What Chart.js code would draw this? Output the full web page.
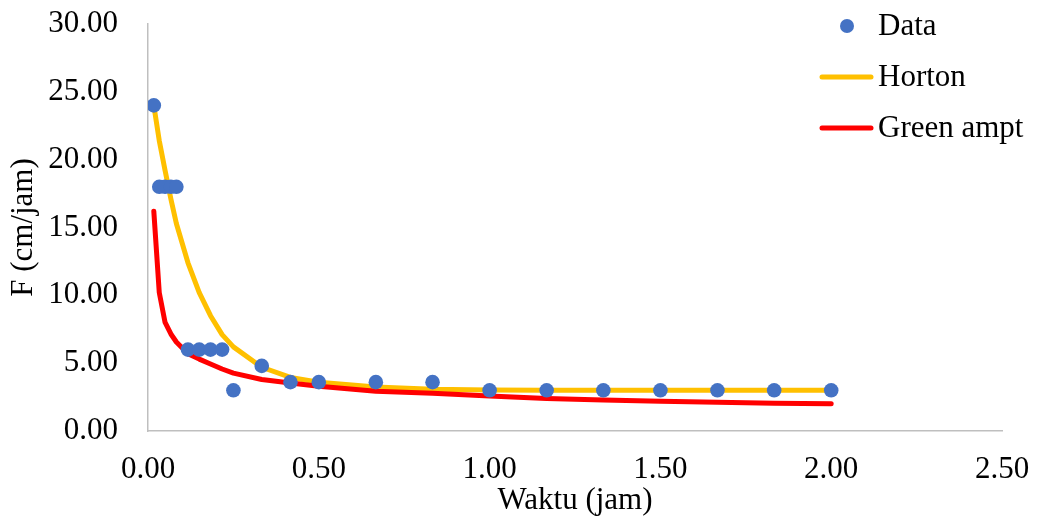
<!DOCTYPE html>
<html><head><meta charset="utf-8">
<script src="https://cdn.jsdelivr.net/npm/chart.js@4.4.1/dist/chart.umd.min.js"></script>
<style>html,body{margin:0;padding:0;background:#fff;} #wrap{width:1038px;height:522px;position:relative;}</style>
</head><body><div id="wrap"><canvas id="c"></canvas></div>
<script>
const timeJam = [0.017, 0.033, 0.05, 0.067, 0.083, 0.117, 0.15, 0.183, 0.217, 0.25, 0.333, 0.417, 0.5, 0.667, 0.833, 1.0, 1.167, 1.333, 1.5, 1.667, 1.833, 2.0];
const dataF = [24, 18, 18, 18, 18, 6, 6, 6, 6, 3, 4.8, 3.6, 3.6, 3.6, 3.6, 3, 3, 3, 3, 3, 3, 3];
const hortonF = [24.0, 21.4, 19.2, 17.1, 15.3, 12.4, 10.2, 8.5, 7.1, 6.2, 4.7, 3.95, 3.6, 3.25, 3.08, 3.02, 3.0, 3.0, 3.0, 3.0, 3.0, 3.0];
const greenAmptF = [16.2, 10.2, 8.0, 7.15, 6.56, 5.7, 5.3, 4.94, 4.57, 4.27, 3.8, 3.54, 3.3, 2.93, 2.78, 2.58, 2.4, 2.28, 2.19, 2.12, 2.05, 2.0];
const xTicks = [0, 0.5, 1.0, 1.5, 2.0, 2.5];
const yTicks = [0, 5, 10, 15, 20, 25, 30];
const seriesNames = ['Data', 'Horton', 'Green ampt'];
const axisTitles = {x: 'Waktu (jam)', y: 'F (cm/jam)'};

const FONT = "'Liberation Serif','Times New Roman',serif";
const FS = 31;
const pts = (ys) => timeJam.map((t, i) => ({x: t, y: ys[i]}));

const legendPlugin = {
  id: 'customLegend',
  afterDraw(chart) {
    const ctx = chart.ctx;
    ctx.save();
    ctx.font = FS + 'px ' + FONT;
    ctx.textBaseline = 'middle';
    ctx.textAlign = 'left';
    const rows = [26, 77, 128];
    const dsOrder = [0, 1, 2];
    dsOrder.forEach((di, r) => {
      const ds = chart.data.datasets[di];
      const y = rows[r];
      if (ds.showLine === false) {
        ctx.beginPath();
        ctx.fillStyle = ds.backgroundColor;
        ctx.arc(847, y, 7, 0, Math.PI * 2);
        ctx.fill();
      } else {
        ctx.beginPath();
        ctx.strokeStyle = ds.borderColor;
        ctx.lineWidth = ds.borderWidth;
        ctx.lineCap = 'round';
        ctx.moveTo(822, y);
        ctx.lineTo(871, y);
        ctx.stroke();
      }
      ctx.fillStyle = '#000';
      ctx.fillText(ds.label, 878, y + 1);
    });
    ctx.restore();
  }
};

new Chart(document.getElementById('c'), {
  type: 'scatter',
  data: {
    datasets: [
      {label: seriesNames[0], data: pts(dataF), showLine: false, backgroundColor: '#4472C4', borderColor: '#4472C4', pointRadius: 7.3, pointBorderWidth: 0, order: 0},
      {label: seriesNames[1], data: pts(hortonF), showLine: true, borderColor: '#FFC000', backgroundColor: '#FFC000', borderWidth: 5, pointRadius: 0, tension: 0, borderCapStyle: 'round', borderJoinStyle: 'round', order: 2},
      {label: seriesNames[2], data: pts(greenAmptF), showLine: true, borderColor: '#FF0000', backgroundColor: '#FF0000', borderWidth: 5, pointRadius: 0, tension: 0, borderCapStyle: 'round', borderJoinStyle: 'round', order: 1}
    ]
  },
  options: {
    responsive: true,
    maintainAspectRatio: false,
    animation: false,
    layout: {padding: {top: 24, right: 36, bottom: 0, left: 0}},
    plugins: {legend: {display: false}, tooltip: {enabled: false}},
    scales: {
      x: {
        type: 'linear', min: 0, max: 2.5,
        afterBuildTicks: (s) => { s.ticks = xTicks.map(v => ({value: v})); },
        afterFit: (s) => { s.height = 91; s.paddingLeft = 0; s.paddingRight = 0; },
        grid: {display: false, drawTicks: false},
        border: {display: true, color: '#BFBFBF', width: 1.5},
        ticks: {padding: 20, color: '#000', font: {family: FONT, size: FS}, callback: (v) => Number(v).toFixed(2), maxRotation: 0, autoSkip: false},
        title: {display: true, text: axisTitles.x, color: '#000', font: {family: FONT, size: FS}, padding: {top: 0, bottom: 3}}
      },
      y: {
        type: 'linear', min: 0, max: 30,
        afterBuildTicks: (s) => { s.ticks = yTicks.map(v => ({value: v})); },
        afterFit: (s) => { s.width = 148; s.paddingTop = 0; s.paddingBottom = 0; },
        grid: {display: false, drawTicks: false},
        border: {display: true, color: '#BFBFBF', width: 1.5},
        ticks: {padding: 30, color: '#000', font: {family: FONT, size: FS}, callback: (v) => Number(v).toFixed(2), autoSkip: false},
        title: {display: true, text: axisTitles.y, color: '#000', font: {family: FONT, size: FS}, padding: {top: 5.5, bottom: 0}}
      }
    }
  },
  plugins: [legendPlugin]
});
</script>
</body></html>
